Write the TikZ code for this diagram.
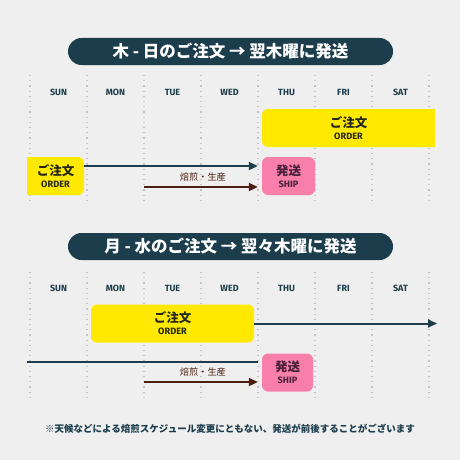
\documentclass[tikz,border=0pt]{standalone}
\usepackage{fontspec}
\setmainfont{Fira Sans}
\newfontfamily\jp{Noto Sans CJK JP}
\usetikzlibrary{arrows.meta,positioning}
\definecolor{bggray}{HTML}{EFEFEF}
\definecolor{navy}{HTML}{1C3D4C}
\definecolor{sepgray}{HTML}{C4C4C4}
\definecolor{ordery}{HTML}{FFE900}
\definecolor{orderink}{HTML}{23281A}
\definecolor{shippink}{HTML}{F77FAA}
\definecolor{shipink}{HTML}{4A1F3A}
\definecolor{roastbrown}{HTML}{4B1E0F}
\tikzset{%
  pill/.style     = {shape=rectangle, rounded corners=13.5pt, fill=navy,%
                     text=white, minimum width=325pt, minimum height=27pt,%
                     font=\jp\bfseries\fontsize{16.5}{16.5}\selectfont},%
  dayname/.style  = {text=navy, font=\bfseries\fontsize{9}{9}\selectfont},%
  daysep/.style   = {draw=sepgray, line width=1.2pt, dash pattern=on 1.2pt off 4pt},%
  tag/.style      = {shape=rectangle, rounded corners=6pt, align=center,%
                     inner sep=0pt, minimum height=38pt},%
  orderbox/.style = {tag, fill=ordery, text=orderink},%
  shipbox/.style  = {tag, fill=shippink, text=shipink},%
  waitline/.style = {draw=navy, line width=2pt, shorten >=4pt},%
  waitarrow/.style = {waitline, -{Triangle[length=9pt,width=8pt]}},%
  roastarrow/.style = {draw=roastbrown, line width=2pt, shorten >=4pt,%
                     -{Triangle[length=9pt,width=8pt]}},%
  roastlabel/.style = {text=roastbrown, font=\jp\fontsize{9.2}{9.2}\selectfont}%
}
\newcommand{\ordertext}{{\jp\bfseries\fontsize{12.5}{12.5}\selectfont ご注文}\\[0pt]%
  {\bfseries\fontsize{9.2}{9.2}\selectfont ORDER}}
\newcommand{\shiptext}{{\jp\bfseries\fontsize{12.5}{12.5}\selectfont 発送}\\[0pt]%
  {\bfseries\fontsize{9.2}{9.2}\selectfont SHIP}}
\begin{document}
\begin{tikzpicture}[x=1pt, y=-1pt]
  \fill[bggray] (0,0) rectangle (460,460);
  \useasboundingbox (0,0) rectangle (460,460);
  % -------------- ORDERS THU - SUN -----------------------------
  \node[pill] (titleA) at (230.5,51.5) {木 - 日のご注文 → 翌木曜に発送};
  \foreach \i in {0,...,7}
    \draw[daysep] (30+57*\i,75) -- (30+57*\i,205);
  \foreach \d [count=\i] in {SUN,MON,TUE,WED,THU,FRI,SAT}
    \node[dayname] (dayA\i) at (1.5+57*\i,92) {\d};
  \node[orderbox, minimum width=173pt] (orderAlate) at (348.5,128) {\ordertext};
  \fill[ordery] ([xshift=-8pt]orderAlate.south east) rectangle (orderAlate.north east);
  \node[orderbox, minimum width=57pt] (orderA) at (55.5,176) {\ordertext};
  \fill[ordery] (orderA.south west) rectangle ([xshift=8pt]orderA.north west);
  \node[shipbox, minimum width=53pt] (shipA) at (288.5,176) {\shiptext};
  \coordinate (roastA) at (144,187);
  \draw[waitarrow] ([yshift=10pt]orderA.east) -- ([yshift=10pt]shipA.west);
  \draw[roastarrow] (roastA) -- (roastA -| shipA.west)
    node [midway, above=1pt, roastlabel] {焙煎・生産};
  % -------------- ORDERS MON - WED -----------------------------
  \node[pill] (titleB) at (230.5,246.5) {月 - 水のご注文 → 翌々木曜に発送};
  \foreach \i in {0,...,7}
    \draw[daysep] (30+57*\i,272) -- (30+57*\i,402);
  \foreach \d [count=\i] in {SUN,MON,TUE,WED,THU,FRI,SAT}
    \node[dayname] (dayB\i) at (1.5+57*\i,288) {\d};
  \node[orderbox, minimum width=163pt] (orderB) at (172.5,323.5) {\ordertext};
  \node[shipbox, minimum width=51pt] (shipB) at (287.5,372.5) {\shiptext};
  \coordinate (waitB) at (437,323.5);
  \coordinate (carryB) at (27,362);
  \coordinate (roastB) at (144,382);
  \draw[waitarrow, shorten >=0pt] (orderB.east) -- (waitB);
  \draw[waitline] (carryB) -- (carryB -| shipB.west);
  \draw[roastarrow] (roastB) -- (roastB -| shipB.west)
    node [midway, above=1pt, roastlabel] {焙煎・生産};
  % -------------- NOTE -----------------------------
  \node[text=navy, font=\jp\bfseries\fontsize{9.5}{9.5}\selectfont] (note) at (230,429)
    {※天候などによる焙煎スケジュール変更にともない、発送が前後することがございます};
\end{tikzpicture}
\end{document}
